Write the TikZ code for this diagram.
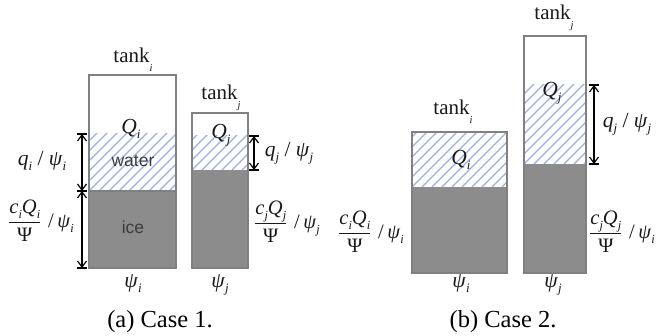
\documentclass[tikz,border=0pt]{standalone}
\usepackage{fontspec}
\setmainfont{Liberation Serif}
\newfontfamily\arialf{Liberation Sans}
\usepackage{graphicx}
\usetikzlibrary{arrows.meta}
\definecolor{hatchc}{RGB}{155,175,218}
\definecolor{icec}{RGB}{140,140,140}
\definecolor{edgec}{RGB}{128,128,128}
\definecolor{txtc}{RGB}{25,25,25}
\definecolor{wtxt}{RGB}{60,60,60}
\newcommand{\lsub}[1]{\raisebox{-0.5ex}{\scalebox{0.6}{\itshape #1}}}
\newcommand{\tsub}[1]{\raisebox{-0.9ex}{\scalebox{0.5}{\itshape #1}}}
\newcommand{\hatchbox}[4]{%
  \begin{scope}
    \clip (#1,#2) rectangle (#3,#4);
    \foreach \k in {-200,-190,...,200}
      \draw[hatchline] (#1+\k,#4) -- ++(200,-200);
  \end{scope}}
\newcommand{\fracl}[2]{$\displaystyle\frac{\mbox{\textit{c}\lsub{#1}\textit{Q}\lsub{#1}}}{\mbox{Ψ}}$\,\,/\,\textit{ψ}\lsub{#2}}
\newcommand{\qlab}[1]{\textit{q}\lsub{#1}\ /\ \textit{ψ}\lsub{#1}}
\tikzset{
  hatchline/.style={draw=hatchc, line width=1.2pt},
  icefill/.style={fill=icec, draw=none},
  tankedge/.style={draw=edgec, line width=1.4pt},
  tlbl/.style={text=txtc, inner sep=0pt, anchor=base, font=\fontsize{21}{24}\selectfont},
  lbl/.style={text=txtc, inner sep=0pt, anchor=base, font=\fontsize{21.5}{24}\selectfont},
  flbl/.style={text=txtc, inner sep=0pt, font=\fontsize{20.5}{24}\selectfont},
  qlbl/.style={text=txtc, inner sep=0pt, anchor=base, font=\fontsize{21.5}{24}\selectfont},
  swlbl/.style={text=wtxt, inner sep=0pt, anchor=base, font=\arialf\fontsize{17.5}{20}\selectfont},
  caplbl/.style={text=black, inner sep=0pt, anchor=base, font=\fontsize{24.5}{28}\selectfont},
  dimarrow/.style={black, line width=1.2pt, {Straight Barb[length=6pt,width=9pt]}-{Straight Barb[length=6pt,width=9pt]}},
  dimtick/.style={black, line width=1.2pt},
}
\begin{document}
\begin{tikzpicture}[x=1pt,y=-1pt]
\useasboundingbox (0,0) rectangle (658,336);

% ---------------- (a) Case 1 ----------------
\hatchbox{89}{134}{176}{191}
\fill[icefill] (89,191) rectangle (176,268);
\draw[tankedge] (89,75) rectangle (176,268);
\draw[edgec, line width=1.4pt] (89,191) -- (176,191);
\hatchbox{192}{136}{248}{170}
\fill[icefill] (192,170) rectangle (248,268);
\draw[tankedge] (192,113) rectangle (248,268);

\node[tlbl] (tai) at (133,63) {tank\tsub{i}};
\node[tlbl] (taj) at (221,100) {tank\tsub{j}};
\node[qlbl] (Qai) at (131,134) {\textit{Q}\lsub{i}};
\node[qlbl] (Qaj) at (221,139) {\textit{Q}\lsub{j}};
\node[swlbl] (water) at (133,167) {water};
\node[swlbl] (ice) at (133,234) {ice};

\coordinate (a1) at (82,134);
\coordinate (a2) at (82,191);
\coordinate (a3) at (82,268);
\coordinate (b1) at (254,136);
\coordinate (b2) at (254,170);
\draw[dimtick] ([xshift=-5]a1) -- ([xshift=5]a1);
\draw[dimtick] ([xshift=-5]a2) -- ([xshift=5]a2);
\draw[dimtick] ([xshift=-5]a3) -- ([xshift=5]a3);
\draw[dimtick] ([xshift=-5]b1) -- ([xshift=5]b1);
\draw[dimtick] ([xshift=-5]b2) -- ([xshift=5]b2);
\draw[dimarrow] (a1) -- (a2);
\draw[dimarrow] (a2) -- (a3);
\draw[dimarrow] (b1) -- (b2);

\node[lbl] (qai) at (42,166) {\qlab{i}};
\node[flbl] (cai) at (41,221) {\fracl{i}{i}};
\node[lbl] (qaj) at (289,157) {\qlab{j}};
\node[flbl] (caj) at (287,222) {\fracl{j}{j}};
\node[qlbl] (pai) at (133,288) {\textit{ψ}\lsub{i}};
\node[qlbl] (paj) at (220,288) {\textit{ψ}\lsub{j}};
\node[caplbl] (capa) at (160,327) {(a) Case 1.};

% ---------------- (b) Case 2 ----------------
\hatchbox{412}{132}{507}{187}
\fill[icefill] (412,187) rectangle (507,273);
\draw[tankedge] (412,132) rectangle (507,273);
\hatchbox{524}{85}{586}{164}
\fill[icefill] (524,164) rectangle (586,273);
\draw[tankedge] (524,36) rectangle (586,273);

\node[tlbl] (tbi) at (453,115) {tank\tsub{i}};
\node[tlbl] (tbj) at (554,20) {tank\tsub{j}};
\node[qlbl] (Qbi) at (461,165) {\textit{Q}\lsub{i}};
\node[qlbl] (Qbj) at (552,97) {\textit{Q}\lsub{j}};

\coordinate (c1) at (594,85);
\coordinate (c2) at (594,164);
\draw[dimtick] ([xshift=-5]c1) -- ([xshift=5]c1);
\draw[dimtick] ([xshift=-5]c2) -- ([xshift=5]c2);
\draw[dimarrow] (c1) -- (c2);

\node[lbl] (qbj) at (627,128) {\qlab{j}};
\node[flbl] (cbi) at (371,232) {\fracl{i}{i}};
\node[flbl] (cbj) at (622,232) {\fracl{j}{i}};
\node[qlbl] (pbi) at (461,288) {\textit{ψ}\lsub{i}};
\node[qlbl] (pbj) at (553,288) {\textit{ψ}\lsub{j}};
\node[caplbl] (capb) at (503,327) {(b) Case 2.};
\end{tikzpicture}
\end{document}
